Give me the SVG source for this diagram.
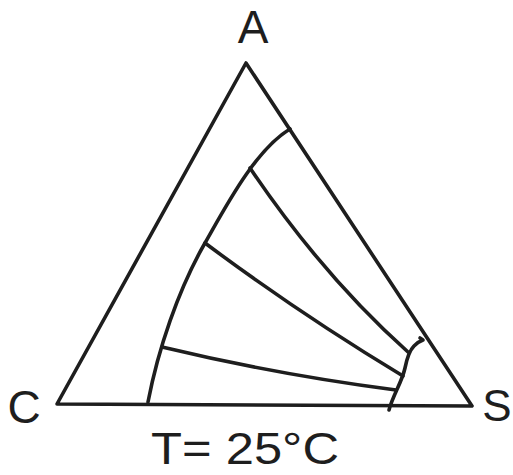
<svg xmlns="http://www.w3.org/2000/svg" width="513" height="475" viewBox="0 0 513 475">
<style>
.ln{fill:none;stroke:#1e1e1e;stroke-width:3.6;stroke-linecap:round;stroke-linejoin:round}
.lb{font-family:"Liberation Sans",Arial,sans-serif;fill:#1e1e1e;text-anchor:middle}
</style>
<rect width="513" height="475" fill="#fff"/>
<g id="triangle">
<path class="ln" d="M57,404 L246,63 L472,406 Z"/>
</g>
<g id="connectors">
<path id="binodal-left" class="ln" d="M148,402 C158,350 178,290 205,243 C225,208 255,150 290,129"/>
<path id="binodal-right" class="ln" d="M389,410 C393,395 402,382 405,368 C407,358 410,350 414,346 C417,343 420,341 423,340 L420,338"/>
<path id="tie1" class="ln" d="M250,168 Q323,276 408,352"/>
<path id="tie2" class="ln" d="M205,243 Q300,314 403,376"/>
<path id="tie3" class="ln" d="M162,347 Q279,375 396,390"/>
</g>
<g id="node-A"><text class="lb" x="253" y="43" font-size="46">A</text></g>
<g id="node-C"><text class="lb" x="24" y="423" font-size="46">C</text></g>
<g id="node-S"><text class="lb" x="497" y="421" font-size="44">S</text></g>
<g id="label-T"><text class="lb" x="245" y="464" font-size="44" textLength="188" lengthAdjust="spacingAndGlyphs">T= 25°C</text></g>
</svg>
